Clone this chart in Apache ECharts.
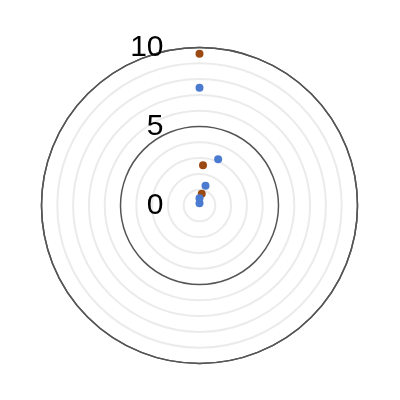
<!DOCTYPE html>
<html>
<head>
<meta charset="utf-8">
<script src="https://cdn.jsdelivr.net/npm/echarts@6/dist/echarts.min.js"></script>
<style>
  html, body { margin: 0; padding: 0; background: #fff; }
  #main { width: 400px; height: 400px; }
</style>
</head>
<body>
<div id="main"></div>
<script>
// radius ticks
var radiusTicks = [0, 5, 10];

// [radius, angle in degrees clockwise from top]
var brownR = [9.6, 2.55, 0.75];
var brownA = [0, 5, 11];
var blueR = [7.45, 3.15, 1.3, 0.46, 0.14];
var blueA = [0, 22, 17, 0, 0];

function pairs(r, a) {
    return r.map(function (v, i) { return [v, a[i]]; });
}

var myChart = echarts.init(document.getElementById('main'));

var option = {
    animation: false,
    polar: {
        center: [199.5, 205.5],
        radius: 158
    },
    angleAxis: {
        type: 'value',
        min: 0,
        max: 360,
        startAngle: 90,
        clockwise: true,
        axisLine: { show: true, lineStyle: { color: '#555', width: 1.5 } },
        axisTick: { show: false },
        axisLabel: { show: false },
        splitLine: { show: false }
    },
    radiusAxis: {
        type: 'value',
        min: radiusTicks[0],
        max: radiusTicks[radiusTicks.length - 1],
        interval: 5,
        axisLine: { show: false },
        axisTick: { show: false },
        axisLabel: {
            show: true,
            fontSize: 30,
            fontFamily: 'Liberation Sans',
            color: '#000',
            margin: 36,
            formatter: function (v) { return radiusTicks.indexOf(v) >= 0 ? String(v) : ''; }
        },
        splitLine: { show: true, lineStyle: { color: '#555', width: 1.5 } },
        minorTick: { show: false, splitNumber: 5 },
        minorSplitLine: { show: true, lineStyle: { color: '#ebebeb', width: 2 } }
    },
    series: [
        {
            name: 'brown',
            type: 'scatter',
            coordinateSystem: 'polar',
            symbolSize: 8,
            itemStyle: { color: '#9b4a14', opacity: 1 },
            data: pairs(brownR, brownA)
        },
        {
            name: 'blue',
            type: 'scatter',
            coordinateSystem: 'polar',
            symbolSize: 8,
            itemStyle: { color: '#4a7bd0', opacity: 1 },
            data: pairs(blueR, blueA)
        }
    ]
};

myChart.setOption(option);
</script>
</body>
</html>
